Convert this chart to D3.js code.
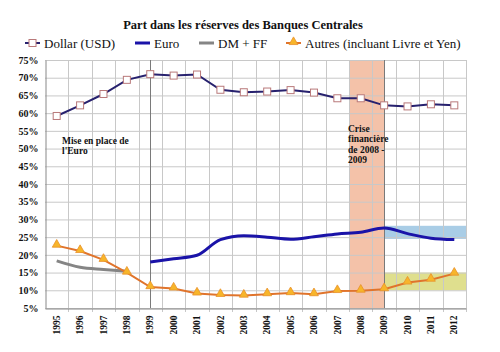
<!DOCTYPE html>
<html>
<head>
<meta charset="utf-8">
<script src="https://cdn.jsdelivr.net/npm/d3@7"></script>
<style>
  body { margin: 0; background: #fff; }
</style>
</head>
<body>
<svg id="chart" width="500" height="352"></svg>
<script>
// valeurs (% des réserves)
const years = ["1995","1996","1997","1998","1999","2000","2001","2002","2003","2004","2005","2006","2007","2008","2009","2010","2011","2012"];
const dollar = [59.2, 62.2, 65.4, 69.4, 71.0, 70.6, 70.9, 66.6, 65.9, 66.1, 66.5, 65.8, 64.2, 64.2, 62.2, 61.9, 62.5, 62.2];
const euro   = [null, null, null, null, 18.0, 18.9, 19.9, 24.3, 25.4, 25.0, 24.4, 25.1, 25.9, 26.4, 27.6, 26.0, 24.7, 24.3];
const dmff   = [18.3, 16.5, 15.9, 15.4, null, null, null, null, null, null, null, null, null, null, null, null, null, null];
const autres = [22.6, 21.1, 18.6, 15.0, 10.9, 10.5, 9.1, 8.7, 8.5, 8.9, 9.2, 8.9, 9.8, 9.9, 10.3, 12.2, 13.0, 14.7];
const yTicks = [5, 10, 15, 20, 25, 30, 35, 40, 45, 50, 55, 60, 65, 70, 75];
// repères
const crisisYears = ["2008", "2009"];
const markerYears = ["1999", "2009"];
const euroBand = [24.5, 28.2];
const autresBand = [10, 15];

const FONT = "'Liberation Serif', 'Times New Roman', serif";
const svg = d3.select("#chart").attr("font-family", FONT);
const m = { left: 45, right: 466, top: 60, bottom: 308 };

const x = d3.scaleBand().domain(years).range([m.left, m.right]);
const cx = d => x(d) + x.bandwidth() / 2;
const y = d3.scaleLinear().domain([5, 75]).range([m.bottom, m.top]);

// zone de crise
svg.append("rect")
  .attr("x", x(crisisYears[0]))
  .attr("y", m.top)
  .attr("width", cx(crisisYears[1]) - x(crisisYears[0]))
  .attr("height", m.bottom - m.top)
  .attr("fill", "#f4c2a9");

// bandes de tendance après 2009
svg.append("rect")
  .attr("x", cx("2009")).attr("y", y(euroBand[1]))
  .attr("width", m.right - cx("2009")).attr("height", y(euroBand[0]) - y(euroBand[1]))
  .attr("fill", "#a9cde6");
svg.append("rect")
  .attr("x", cx("2009")).attr("y", y(autresBand[1]))
  .attr("width", m.right - cx("2009")).attr("height", y(autresBand[0]) - y(autresBand[1]))
  .attr("fill", "#dfdf8e");

// grille
const grid = svg.append("g").attr("stroke", "#c8c8c8").attr("stroke-width", 1);
grid.selectAll("line.h").data(yTicks).join("line")
  .attr("x1", m.left).attr("x2", m.right)
  .attr("y1", d => y(d) + 0.5).attr("y2", d => y(d) + 0.5);
grid.selectAll("line.v").data(years.slice(1).concat(["end"])).join("line")
  .attr("x1", (d, i) => Math.round(i < years.length - 1 ? x(d) : m.right) + 0.5)
  .attr("x2", (d, i) => Math.round(i < years.length - 1 ? x(d) : m.right) + 0.5)
  .attr("y1", m.top).attr("y2", m.bottom + 4);

// lignes verticales 1999 / 2009
svg.selectAll("line.mark").data(markerYears).join("line")
  .attr("x1", d => Math.round(cx(d)) + 0.5).attr("x2", d => Math.round(cx(d)) + 0.5)
  .attr("y1", m.top).attr("y2", m.bottom)
  .attr("stroke", "#7a7a7a").attr("stroke-width", 1);

// axes
const yAxis = svg.append("g")
  .attr("transform", `translate(${m.left + 0.5},0)`)
  .call(d3.axisLeft(y).tickValues(yTicks).tickSize(0).tickPadding(7).tickFormat(d => d + "%"));
yAxis.attr("font-family", FONT);
yAxis.select(".domain").attr("stroke", "#888");
yAxis.selectAll("text").attr("font-size", 10).attr("font-weight", "bold").attr("fill", "#111");

const xAxis = svg.append("g")
  .attr("transform", `translate(0,${m.bottom + 0.5})`)
  .call(d3.axisBottom(x).tickSize(0).tickPadding(0));
xAxis.attr("font-family", FONT);
xAxis.select(".domain").attr("stroke", "#888");
xAxis.selectAll("text")
  .attr("font-size", 9.5).attr("font-weight", "bold").attr("fill", "#111")
  .attr("transform", "rotate(-90)")
  .attr("text-anchor", "end")
  .attr("x", -7).attr("y", 0).attr("dy", "0.33em");

// séries
const pts = arr => years.map((yr, i) => [yr, arr[i]]).filter(p => p[1] != null);

const lineStraight = d3.line().x(d => cx(d[0])).y(d => y(d[1]));
const lineSmooth = d3.line().x(d => cx(d[0])).y(d => y(d[1])).curve(d3.curveMonotoneX);

svg.append("path").datum(pts(dmff)).attr("d", lineSmooth)
  .attr("fill", "none").attr("stroke", "#858585").attr("stroke-width", 3);

svg.append("path").datum(pts(euro)).attr("d", lineSmooth)
  .attr("fill", "none").attr("stroke", "#1a13a8").attr("stroke-width", 3);

svg.append("path").datum(pts(autres)).attr("d", lineStraight)
  .attr("fill", "none").attr("stroke", "#e0742c").attr("stroke-width", 2);
const tri = d3.symbol().type(d3.symbolTriangle).size(34);
svg.selectAll("path.tri").data(pts(autres)).join("path")
  .attr("d", tri)
  .attr("transform", d => `translate(${cx(d[0])},${y(d[1]) - 1})`)
  .attr("fill", "#f7b52a").attr("stroke", "#e8902a").attr("stroke-width", 0.8);

svg.append("path").datum(pts(dollar)).attr("d", lineStraight)
  .attr("fill", "none").attr("stroke", "#27216e").attr("stroke-width", 2);
svg.selectAll("rect.sq").data(pts(dollar)).join("rect")
  .attr("x", d => cx(d[0]) - 3.5).attr("y", d => y(d[1]) - 3.5)
  .attr("width", 7).attr("height", 7)
  .attr("fill", "#fff").attr("stroke", "#b9797a").attr("stroke-width", 1);

// annotations
function note(lines, xp, yp) {
  const t = svg.append("text").attr("font-family", FONT)
    .attr("font-size", 9.5).attr("font-weight", "bold").attr("fill", "#111");
  lines.forEach((s, i) => t.append("tspan").attr("x", xp).attr("y", yp + i * 10.3).text(s));
}
note(["Mise en place de", "l'Euro"], 62, 144);
note(["Crise", "financière", "de 2008 -", "2009"], 348, 132);

// titre
svg.append("text").attr("x", 243).attr("y", 29).attr("text-anchor", "middle")
  .attr("font-family", FONT)
  .attr("font-size", 12.5).attr("font-weight", "bold").attr("fill", "#111")
  .text("Part dans les réserves des Banques Centrales");

// légende
const leg = svg.append("g").attr("font-family", FONT).attr("font-size", 13).attr("fill", "#111");
const ly = 43;
const legendItems = [
  { label: "Dollar (USD)", x: 25, color: "#27216e", w: 2, mark: "sq" },
  { label: "Euro", x: 135, color: "#1a13a8", w: 3 },
  { label: "DM + FF", x: 199, color: "#858585", w: 3 },
  { label: "Autres (incluant Livre et Yen)", x: 286, color: "#e0742c", w: 2, mark: "tri" }
];
legendItems.forEach(it => {
  leg.append("line").attr("x1", it.x).attr("x2", it.x + 15).attr("y1", ly).attr("y2", ly)
    .attr("stroke", it.color).attr("stroke-width", it.w);
  if (it.mark === "sq") {
    leg.append("rect").attr("x", it.x + 4).attr("y", ly - 3.5).attr("width", 7).attr("height", 7)
      .attr("fill", "#fff").attr("stroke", "#b9797a");
  } else if (it.mark === "tri") {
    leg.append("path").attr("d", tri).attr("transform", `translate(${it.x + 7.5},${ly - 1})`)
      .attr("fill", "#f7b52a").attr("stroke", "#e8902a").attr("stroke-width", 0.8);
  }
  leg.append("text").attr("x", it.x + 19).attr("y", ly + 4.5).text(it.label);
});
</script>
</body>
</html>
